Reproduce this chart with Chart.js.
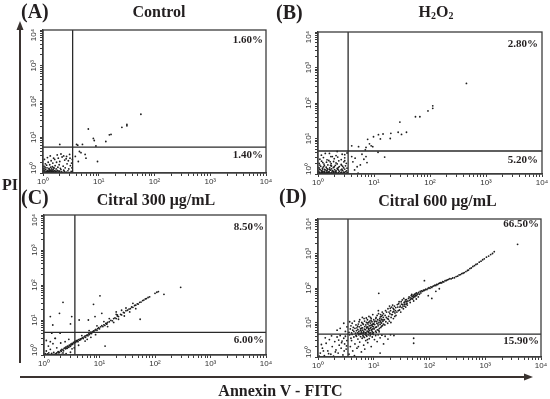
<!DOCTYPE html>
<html><head><meta charset="utf-8">
<script src="https://cdn.jsdelivr.net/npm/chart.js@4.4.1/dist/chart.umd.min.js"></script>
<style>
html,body{margin:0;padding:0;background:#fff;}
#wrap{position:relative;width:550px;height:399px;overflow:hidden;background:#fff;}
#wrap canvas{position:absolute;}
.t{position:absolute;font-family:'Liberation Serif','Times New Roman',serif;font-weight:bold;color:#231f20;line-height:1;white-space:nowrap;}
.t sub{font-size:62%;vertical-align:-0.25em;line-height:0;}
</style></head><body>
<div id="wrap">
<svg width="550" height="399" style="position:absolute;left:0;top:0">
  <line x1="20" y1="28" x2="20" y2="363" stroke="#3a3330" stroke-width="2"/>
  <polygon points="20,21 16.5,30 23.5,30" fill="#3a3330"/>
  <line x1="20" y1="377" x2="526" y2="377" stroke="#3a3330" stroke-width="2"/>
  <polygon points="533,377 524,373.5 524,380.5" fill="#3a3330"/>
</svg>
</div>
<script>
// ---------- data ----------
const AXIS_MIN = 1, AXIS_MAX = 10000;
const majorTickValues = [1, 10, 100, 1000, 10000];
const tickLabels = ['10⁰', '10¹', '10²', '10³', '10⁴'];
const panelLetters = ['(A)', '(B)', '(C)', '(D)'];
const panelTitles = ['Control', 'H₂O₂', 'Citral 300 μg/mL', 'Citral 600 μg/mL'];
const upperRightPct = ['1.60%', '2.80%', '8.50%', '66.50%'];
const lowerRightPct = ['1.40%', '5.20%', '6.00%', '15.90%'];
const gateX = [3.4, 3.45, 3.6, 3.45];
const gateY = [5.3, 4.45, 4.45, 4.6];
const yAxisTitle = 'PI';
const xAxisTitle = 'Annexin V - FITC';

const controlPoints = [
 [57,44],[26,19],[32,23],[32,21],[15.5,11.7],[16.6,12],[13.4,7.6],[6.5,17],[8,9.3],[8.3,8.1],[8.9,5.7],[4,6.3],[5.1,6.3],[2,6.3],
 [4.5,4],[4.8,3.7],[5.7,3.3],[5.9,2.6],[4.3,2.1],[9.5,2.1],[3.8,2.9],[4.2,6.0],
 [1.05,1.02],[1.1,1.05],[1.15,1.1],[1.2,1.03],[1.25,1.08],[1.3,1.15],[1.35,1.02],[1.4,1.1],[1.45,1.2],[1.5,1.05],[1.55,1.12],[1.6,1.03],[1.7,1.1],[1.8,1.18],[1.9,1.05],[2.0,1.1],[2.1,1.25],[2.2,1.04],[2.4,1.12],[2.6,1.06],[2.8,1.15],[3.0,1.03],[3.2,1.1],
 [1.02,1.2],[1.08,1.3],[1.12,1.25],[1.18,1.4],[1.22,1.18],[1.28,1.35],[1.33,1.22],[1.38,1.45],[1.42,1.3],[1.48,1.5],[1.52,1.25],[1.58,1.38],[1.65,1.6],[1.72,1.3],[1.85,1.45],[1.95,1.7],[2.05,1.35],[2.3,1.55],[2.5,1.4],[2.7,1.8],[2.9,1.3],[3.1,1.6],
 [1.04,1.55],[1.1,1.8],[1.16,1.65],[1.24,2.0],[1.32,1.7],[1.4,2.2],[1.5,1.9],[1.62,2.4],[1.75,2.0],[1.88,2.6],[2.0,2.1],[2.2,2.8],[2.45,2.3],[2.65,2.9],[2.85,2.2],[3.05,2.6],[3.25,1.9],
 [1.06,2.4],[1.2,2.7],[1.35,3.0],[1.55,2.6],[1.8,3.2],[2.1,3.4],[2.35,3.0],[2.6,2.5],[3.0,3.3],[3.3,1.4],[3.35,2.4],
 [1.03,1.08],[1.07,1.14],[1.13,1.02],[1.17,1.07],[1.23,1.12],[1.27,1.04],[1.32,1.09],[1.37,1.16],[1.43,1.06],[1.47,1.13],[1.57,1.08],[1.63,1.17],[1.68,1.05],[1.78,1.09],[1.93,1.14],[2.15,1.08],[2.35,1.2],[2.55,1.02],[1.01,1.35],[1.09,1.45],[1.19,1.12],[1.29,1.28],[1.39,1.03],[1.53,1.4]
];

const h2o2Points = [
 [1.02,1.03],[1.06,1.08],[1.1,1.01],[1.14,1.12],[1.18,1.05],[1.22,1.1],[1.27,1.02],[1.31,1.14],[1.36,1.06],[1.41,1.11],[1.46,1.03],[1.52,1.09],[1.58,1.13],[1.64,1.02],[1.7,1.07],[1.77,1.12],[1.85,1.04],[1.93,1.1],[2.02,1.01],[2.12,1.13],[2.22,1.06],[2.35,1.09],[2.48,1.02],[2.62,1.12],[2.78,1.05],[2.95,1.1],[3.15,1.03],[3.35,1.08],
 [1.04,1.12],[1.12,1.06],[1.2,1.14],[1.29,1.07],[1.39,1.01],[1.49,1.12],[1.61,1.06],[1.74,1.02],[1.89,1.14],[2.07,1.07],[2.28,1.03],[2.55,1.08],[2.86,1.13],[3.25,1.05],
 [1.03,1.2],[1.09,1.32],[1.15,1.25],[1.21,1.38],[1.28,1.18],[1.34,1.3],[1.42,1.22],[1.5,1.36],[1.57,1.17],[1.66,1.28],[1.75,1.4],[1.86,1.2],[1.98,1.33],[2.1,1.24],[2.25,1.37],[2.4,1.19],[2.58,1.3],[2.76,1.26],[3.0,1.38],[3.25,1.22],
 [1.06,1.38],[1.18,1.22],[1.31,1.35],[1.45,1.27],[1.62,1.33],[1.8,1.24],[2.03,1.18],[2.32,1.29],[2.67,1.36],[3.1,1.16],
 [1.04,1.5],[1.12,1.65],[1.2,1.45],[1.3,1.72],[1.4,1.55],[1.5,1.8],[1.62,1.48],[1.74,1.68],[1.88,1.52],[2.04,1.76],[2.2,1.44],[2.4,1.62],[2.62,1.78],[2.86,1.5],[3.1,1.7],[3.3,1.46],
 [1.08,1.78],[1.25,1.58],[1.45,1.42],[1.68,1.74],[1.95,1.6],[2.3,1.52],[2.75,1.66],
 [1.05,2.0],[1.16,2.3],[1.28,1.9],[1.42,2.15],[1.56,2.4],[1.72,1.95],[1.9,2.25],[2.1,2.05],[2.35,2.35],[2.6,1.85],[2.9,2.2],[3.2,2.0],
 [1.22,2.1],[1.65,2.2],[2.2,1.92],[3.0,2.38],
 [1.08,2.6],[1.25,2.9],[1.45,2.5],[1.7,3.1],[1.95,2.7],[2.25,3.0],[2.6,2.55],[3.0,2.85],
 [1.15,3.4],[1.6,3.8],[2.1,3.3],[2.7,3.6],[3.3,3.9],
 [447,356],[112,83],[112,71],[92,60],[55,41],[66,41],[29,29],[27,15],[31,13],[38,15],[20,14],[19.5,10],[14.5,13.4],[12,12.8],[13,9.7],[9.8,11.2],[7.7,9.5],[8.3,7.1],[8.9,6.2],[7.2,5.6],[7.0,4.8],[9.5,5.9],[5.3,5.9],[4.0,6.2],
 [11.8,4.1],[15.5,3.0],[4.0,3.1],[4.6,2.8],[6.1,3.6],[6.6,2.6],[7.5,2.1],[5.0,1.6],[4.5,1.3],[5.2,1.05],[5.7,1.8],[4.2,2.2],[7.2,3.1],[2.2,4.3],[1.8,3.1],[1.35,3.8],[3.0,3.5]
];

const citral300Points = [
 [1.02,1.01],[1.08,1.02],[1.12,1.0],[1.18,1.03],[1.25,1.01],[1.3,1.02],[1.35,1.04],[1.42,1.01],[1.48,1.03],[1.55,1.02],[1.6,1.0],[1.68,1.03],[1.75,1.01],[1.85,1.05],[1.95,1.02],[2.1,1.04],[2.3,1.03],
 [1.05,1.1],[1.15,1.08],[1.22,1.15],[1.38,1.12],[1.5,1.18],[1.65,1.1],[1.8,1.2],[2.2,1.15],[2.5,1.1],[3.0,1.2],[1.1,1.3],[1.3,1.45],[1.2,1.8],[1.45,2.1],[1.7,1.6],[2.4,2.4],[1.1,2.6],[2.8,2.8],[3.2,1.5],[1.6,3.0],[2.0,2.2],
 [1.3,2.4],[1.58,3.0],[2.6,1.55],[1.38,4.2],[1.95,4.2],
 [1.6,1.05],[1.7,1.15],[1.8,1.25],[1.9,1.2],[2.0,1.35],[2.05,1.28],[2.1,1.45],[2.2,1.4],[2.25,1.32],[2.3,1.55],[2.4,1.62],[2.45,1.5],[2.5,1.7],[2.6,1.58],[2.65,1.8],[2.7,1.72],[2.8,1.66],[2.85,1.9],[2.9,1.85],[3.0,1.78],[3.05,2.05],[3.1,1.95],[3.2,2.15],[3.25,2.0],[3.3,2.08],[3.4,2.3],[3.5,2.2],[3.6,2.4],[3.7,2.28],[3.8,2.55],[3.9,2.45],[4.0,2.6],[4.1,2.4],[4.2,2.75],[4.4,2.65],[4.5,2.9],[4.6,2.78],[4.8,3.0],[5.0,3.15],[5.1,2.95],
 [5.3,3.3],[5.5,3.5],[5.6,3.2],[5.8,3.6],[6.0,3.75],[6.2,3.55],[6.4,4.0],[6.6,3.85],[6.8,4.2],[7.0,4.5],[7.2,4.1],[7.5,4.6],[7.8,4.85],[8.0,4.5],[8.3,5.1],[8.6,5.4],[9.0,5.1],[9.3,5.7],[9.7,6.0],[10,5.6],[10.5,6.4],[11,6.9],[11.5,6.5],[12,7.3],[12.5,7.0],[13,8.0],[13.5,7.6],[14,8.6],[15,8.9],
 [16,9.8],[17,9.5],[18,11],[19,11.5],[20,11],[21,13],[22,12.5],[24,14.5],[25,14],[27,16.5],[28,16],[30,18.5],[32,19],[34,20.5],[36,21],[38,23.5],[40,23],[43,26],[45,26.5],[48,29],[50,28.5],[53,32],[56,32.5],[60,36],[63,37],[67,40],[70,41],[75,44],[80,46],[100,58],[108,62],[115,65],[145,54],[290,86],
 [3.5,1.6],[4.2,1.9],[5.5,2.5],[6,2.8],[7,3.2],[8.5,3.8],[4.8,3.6],[6.5,5.0],[9,6.8],[12,9],[15,11],[20,14.5],[25,19],[30,22],[40,30],[14,6.5],[18,8.5],[22,10.5],[28,13],[35,17],[45,21],
 [10.2,49],[7.8,28],[2.2,32],[1.9,15.5],[1.3,12.5],[1.44,7.2],[3.16,12.5],[3.0,7.7],[4.3,10],[12.6,1.8],[54,10.5],[20,17],[21,14],[11,15.5],[13.5,8],[6.3,10],[8.3,12.5]
];

const citral600Points = [
 [1.1,1.3],[1.2,1.8],[1.3,1.1],[1.4,2.5],[1.5,1.5],[1.6,3.2],[1.7,1.2],[1.8,2.0],[1.9,1.05],[2.0,2.8],[2.1,1.6],[2.2,3.8],[2.3,1.3],[2.4,2.2],[2.5,4.2],[2.6,1.8],[2.7,2.9],[2.8,1.15],[2.9,3.5],[3.0,2.4],[3.1,4.0],[3.2,1.7],[3.3,3.0],[1.15,2.3],[1.35,3.6],[1.55,1.25],[1.75,4.1],[2.05,1.4],[2.35,3.1],[2.65,2.6],[2.95,1.5],[3.25,2.1],[1.05,1.05],[1.25,1.5],
 [2.5,6.8],[2.9,9.5],[2.2,6.0],[3.1,5.5],[3.3,7.5],
 [3.6,1.2],[3.8,2.0],[4.0,3.0],[4.2,1.5],[4.4,3.8],[4.6,2.4],[4.8,4.2],[5.0,1.8],[5.2,3.3],[5.4,4.4],[5.6,2.7],[5.8,3.9],[6.0,1.4],[6.2,3.5],[6.4,4.3],[6.6,2.2],[6.8,3.7],[7.0,4.5],[7.2,3.0],[7.5,4.0],[7.8,2.6],[8.0,4.4],[8.3,3.4],[8.6,4.1],[9.0,2.0],[9.4,3.8],[9.8,4.5],[10.3,3.2],[10.8,4.2],[11.5,2.8],[12,4.4],[13,3.6],[14,4.3],[15,2.4],[16,4.0],[18,3.3],[20,4.4],[4.1,4.5],[4.9,4.0],[5.7,4.6],[6.5,3.9],[7.3,4.3],[8.8,4.5],[3.9,3.5],[4.5,1.1],[5.3,2.0],[6.9,1.7],[7.7,3.2],[13,1.3],[52,3.5],[52,2.5],[23,4.2],[3.7,4.4],
 [3.6,5.2],[3.8,6.5],[3.9,8.0],[4.0,5.0],[4.1,9.5],[4.2,6.0],[4.3,7.2],[4.4,5.5],[4.5,11],[4.6,6.8],[4.7,4.9],[4.8,8.5],[4.9,5.8],[5.0,7.0],[3.7,10.5],
 [5.1,5.0],[5.2,6.2],[5.3,9.0],[5.4,5.4],[5.5,7.5],[5.6,12],[5.7,4.8],[5.8,6.6],[5.9,8.2],[6.0,5.3],[6.1,10],[6.2,6.0],[6.3,7.0],[6.4,4.9],[6.5,8.8],[6.6,5.6],[6.7,13],[6.8,6.4],[6.9,7.6],[7.0,5.1],[5.15,7.8],[5.45,10.5],[5.75,5.9],[6.05,6.9],[6.35,9.4],[6.55,5.0],[6.85,11],[5.35,4.7],[6.25,14],[5.95,4.75],
 [7.1,6.2],[7.2,8.5],[7.3,5.0],[7.4,10],[7.5,6.9],[7.6,5.6],[7.7,12],[7.8,7.4],[7.9,9.0],[8.0,5.2],[8.1,6.3],[8.2,15],[8.3,8.0],[8.4,5.8],[8.5,11],[8.6,6.7],[8.7,9.6],[8.8,5.0],[8.9,7.2],[9.0,13],[9.1,6.0],[9.2,8.4],[9.3,10.5],[9.4,5.4],[9.5,7.8],[9.6,17],[9.7,6.6],[9.8,9.2],[9.9,5.1],[10,12],[7.15,4.8],[7.45,7.3],[7.75,9.8],[8.05,6.8],[8.35,4.9],[8.65,8.3],[8.95,11.5],[9.25,6.3],[9.55,4.85],[9.85,7.5],[7.35,13.5],[8.15,10.2],[8.75,14],[9.45,8.8],[7.95,5.5],
 [10.2,6.5],[10.4,8.7],[10.6,11],[10.8,5.6],[11,14],[11.2,7.4],[11.4,9.5],[11.6,6.1],[11.8,12],[12,8.0],[12.2,18],[12.4,10],[12.6,6.8],[12.8,13],[13,8.8],[13.2,11],[13.4,7.2],[13.6,15],[13.8,9.6],[14,12],[14.2,20],[14.4,8.2],[14.6,10.8],[14.8,14],[15,9.0],[10.3,10.5],[10.7,7.2],[11.1,5.2],[11.5,16],[11.9,9.0],[12.3,6.0],[12.7,11.5],[13.1,14.5],[13.5,10],[13.9,7.8],[14.3,16],[14.7,11.8],[10.9,13],[12.1,22],[13.3,17],[12.5,5.4],[11.3,10.8],[14.9,18],[10.1,9.0],[13.7,12.5],
 [15.5,12],[16,16],[16.5,10.5],[17,20],[17.5,13],[18,25],[18.5,15],[19,11],[19.5,18],[20,22],[20.5,14],[21,28],[21.5,17],[22,20],[22.5,13],[23,24],[23.5,30],[24,19],[24.5,22],[25,16],[15.8,8.5],[16.8,14],[17.8,9.5],[18.8,20],[19.8,26],[20.8,17],[21.8,32],[22.8,21],[23.8,15],[24.8,27],[16.3,22],[18.3,12.5],[20.3,10],[22.3,25.5],[19.2,30],
 [26,20],[27,28],[28,35],[29,23],[30,30],[31,40],[32,27],[33,33],[34,25],[35,38],[36,30],[37,45],[38,34],[39,40],[40,32],[26.5,33],[27.5,22],[28.5,40],[29.5,28],[30.5,20],[31.5,34],[32.5,45],[33.5,30],[34.5,50],[35.5,34],[36.5,40],[37.5,28],[38.5,46],[39.5,36],[12.3,70],
 [41,42],[42,50],[43,55],[44,44],[45,52],[46,47],[47,60],[48,50],[49,56],[50,48],[51,62],[52,54],[53,58],[54,66],[55,56],[56,62],[57,70],[58,60],[59,72],[60,64],[62,68],[64,75],[66,66],[68,80],[70,72],[45,38],[52,42],[58,48],[63,55],[48,65],
 [72,82],[75,80],[78,86],[80,84],[83,88],[86,92],[90,90],[94,97],[98,102],[102,98],[106,108],[110,104],[115,112],[120,116],[125,120],[130,118],[135,128],[140,126],[146,134],[152,138],[158,142],[165,140],[172,152],[180,150],[190,162],[200,165],[210,172],[220,178],[232,186],[245,185],[81,163],[110,50],[95,60],[130,80],[150,95],
 [260,195],[280,198],[300,215],[320,220],[340,240],[360,245],[380,262],[400,268],[420,280],[450,300],[480,322],[500,330],[530,365],[560,380],[600,420],[640,445],[680,480],[720,500],[780,560],[840,600],[900,660],[960,700],[1050,780],[1150,840],[1250,930],[1350,1000],[1450,1130],[3800,1850]
];

const panelPoints = [controlPoints, h2o2Points, citral300Points, citral600Points];

// ---------- layout (positions only) ----------
const layoutCfg = [
 {canvas:{left:23, top:22, w:252, h:166}, pad:{top:8, right:9},
  letter:{left:21, top:1}, title:{cx:159, top:4}, ur:{right:263, top:34}, lr:{right:263, top:149}},
 {canvas:{left:298, top:24, w:252, h:165}, pad:{top:8, right:8},
  letter:{left:276, top:2}, title:{cx:436, top:4}, ur:{right:538, top:38}, lr:{right:538, top:154}},
 {canvas:{left:24, top:207, w:251, h:163}, pad:{top:8, right:9},
  letter:{left:21, top:187}, title:{cx:156, top:192}, ur:{right:264, top:221}, lr:{right:264, top:334}},
 {canvas:{left:298, top:211, w:252, h:161}, pad:{top:8, right:9},
  letter:{left:279, top:186}, title:{cx:437.5, top:193}, ur:{right:539, top:218}, lr:{right:539, top:335}}
];

const wrap = document.getElementById('wrap');
function addText(html, style, size){
  const d = document.createElement('div');
  d.className = 't';
  d.innerHTML = html;
  d.style.fontSize = size + 'px';
  Object.assign(d.style, style);
  wrap.appendChild(d);
  return d;
}

const TICK_FONT = "'Liberation Sans Narrow','Liberation Sans',Arial,sans-serif";
const AXIS_COLOR = '#3c3c3c';

const framePlugin = {
  id: 'frame',
  afterDraw(chart){
    const a = chart.chartArea, ctx = chart.ctx, s = chart.scales.y;
    ctx.save();
    ctx.strokeStyle = AXIS_COLOR; ctx.lineWidth = 1.3;
    ctx.strokeRect(a.left, a.top, a.right - a.left, a.bottom - a.top);
    ctx.fillStyle = '#333';
    ctx.font = '8px ' + TICK_FONT;
    ctx.textAlign = 'center'; ctx.textBaseline = 'middle';
    majorTickValues.forEach((v, i) => {
      let y = s.getPixelForValue(v);
      y = Math.min(Math.max(y, a.top + 5), a.bottom - 5);
      ctx.save();
      ctx.translate(a.left - 9, y);
      ctx.rotate(-Math.PI / 2);
      ctx.fillText(tickLabels[i], 0, 0);
      ctx.restore();
    });
    ctx.restore();
  }
};

function dropHalfTicks(scale){
  scale.ticks = scale.ticks.filter(t => !/^15/.test(String(t.value)));
}

function axis(isX){
  return {
    type: 'logarithmic', min: AXIS_MIN, max: AXIS_MAX,
    afterBuildTicks: dropHalfTicks,
    afterFit: s => { if (isX) s.height = 15; else s.width = 20; },
    ticks: {
      autoSkip: false, minRotation: 0, maxRotation: 0, padding: 1,
      color: '#333', font: {family: TICK_FONT, size: 8},
      callback: v => { const i = majorTickValues.indexOf(v); return (isX && i >= 0) ? tickLabels[i] : ''; }
    },
    grid: {drawOnChartArea: false, drawTicks: true, tickLength: 3, color: AXIS_COLOR, tickColor: AXIS_COLOR, tickWidth: 1},
    border: {display: true, color: AXIS_COLOR, width: 1.3}
  };
}

layoutCfg.forEach((L, i) => {
  const c = document.createElement('canvas');
  c.width = L.canvas.w; c.height = L.canvas.h;
  c.style.left = L.canvas.left + 'px'; c.style.top = L.canvas.top + 'px';
  c.style.width = L.canvas.w + 'px'; c.style.height = L.canvas.h + 'px';
  wrap.appendChild(c);
  new Chart(c, {
    type: 'scatter',
    data: { datasets: [
      { data: panelPoints[i].map(p => ({x: p[0], y: p[1]})), pointRadius: 0.9, pointHoverRadius: 0.9,
        backgroundColor: '#1e1e1e', borderWidth: 0, order: 2 },
      { type: 'line', data: [{x: gateX[i], y: AXIS_MIN}, {x: gateX[i], y: AXIS_MAX}], borderColor: '#2a2a2a',
        borderWidth: 1.3, pointRadius: 0, fill: false, order: 1 },
      { type: 'line', data: [{x: AXIS_MIN, y: gateY[i]}, {x: AXIS_MAX, y: gateY[i]}], borderColor: '#2a2a2a',
        borderWidth: 1.3, pointRadius: 0, fill: false, order: 1 }
    ]},
    options: {
      responsive: false, animation: false, events: [], devicePixelRatio: 1,
      layout: { padding: { top: L.pad.top, right: L.pad.right, left: 0, bottom: 0 } },
      plugins: { legend: {display: false}, tooltip: {enabled: false}, title: {display: false} },
      scales: { x: axis(true), y: axis(false) }
    },
    plugins: [framePlugin]
  });

  addText(panelLetters[i], {left: L.letter.left + 'px', top: L.letter.top + 'px'}, 20);
  addText(panelTitles[i].replace(/₂/g, '<sub>2</sub>'), {left: L.title.cx + 'px', top: L.title.top + 'px', transform: 'translateX(-50%)'}, 16);
  addText(upperRightPct[i], {right: (550 - L.ur.right) + 'px', top: L.ur.top + 'px'}, 11);
  addText(lowerRightPct[i], {right: (550 - L.lr.right) + 'px', top: L.lr.top + 'px'}, 11);
});

addText(yAxisTitle, {left: '2px', top: '177px'}, 16);
addText(xAxisTitle, {left: '280.5px', top: '383px', transform: 'translateX(-50%)'}, 16);
</script>
</body></html>
